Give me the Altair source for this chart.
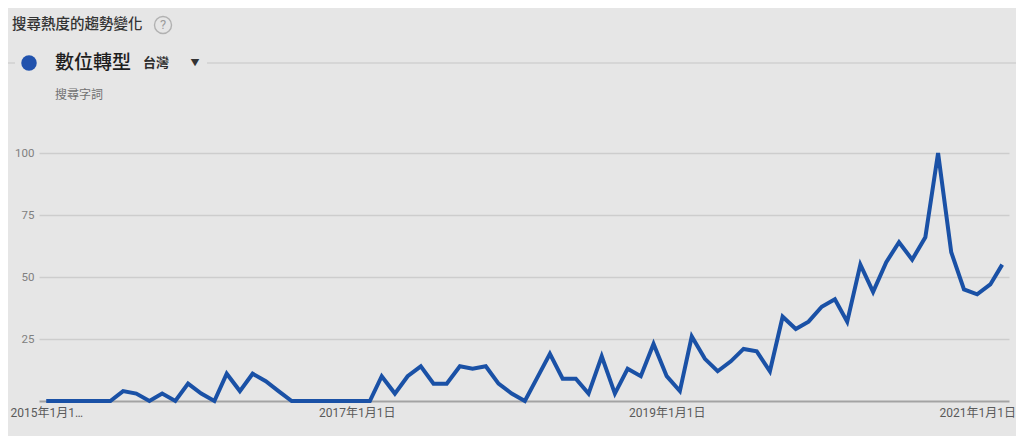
import altair as alt
import pandas as pd

# ---- data (monthly, 2015-01 .. 2021-03) ----
start_month = "2015-01"
n_months = 75
values = [
    0, 0, 0, 0, 0, 0, 4, 3, 0, 3, 0, 7,
    3, 0, 11, 4, 11, 8, 4, 0, 0, 0, 0, 0,
    0, 0, 10, 3, 10, 14, 7, 7, 14, 13, 14, 7,
    3, 0, 9, 19, 9, 9, 3, 18, 3, 13, 10, 23,
    10, 4, 26, 17, 12, 16, 21, 20, 12, 34, 29, 32,
    38, 41, 32, 55, 44, 56, 64, 57, 66, 100, 60, 45,
    43, 47, 55,
]
months = [d.strftime("%Y-%m-%dT00:00:00") for d in pd.date_range(start_month, periods=n_months, freq="MS")]

y_ticks = [25, 50, 75, 100]
x_tick_years = [2015, 2017, 2019, 2021]

title_text = "搜尋熱度的趨勢變化"
term_text = "數位轉型"
region_text = "台灣"
term_type_text = "搜尋字詞"

df = pd.DataFrame({"date": months, "value": values})

CJK = "Roboto, 'Noto Sans CJK TC', sans-serif"

line = alt.Chart(df).mark_line(color="#1a51a6", strokeWidth=4, strokeJoin="miter").encode(
    x=alt.X(
        "date:T",
        scale=alt.Scale(
            domain=[alt.DateTime(year=2014, month=12, date=15), alt.DateTime(year=2021, month=3, date=17)],
            nice=False,
        ),
        axis=alt.Axis(
            title=None,
            values=[alt.DateTime(year=y, month=1, date=1) for y in x_tick_years],
            labelExpr="year(datum.value) == 2015 ? '2015年1月1…' : year(datum.value) + '年1月1日'",
            ticks=False,
            grid=False,
            domain=True,
            domainColor="#a3a3a3",
            domainWidth=2,
            labelColor="#5a5a5a",
            labelFont=CJK,
            labelFontSize=12,
            labelPadding=6,
            labelFlush=False,
            labelOverlap=False,
            labelBound=False,
        ),
    ),
    y=alt.Y(
        "value:Q",
        scale=alt.Scale(domain=[0, 100], nice=False),
        axis=alt.Axis(
            title=None,
            values=y_ticks,
            ticks=False,
            domain=False,
            grid=True,
            gridColor="#cdcdcd",
            gridWidth=1.5,
            labelColor="#808080",
            labelFont=CJK,
            labelFontSize=11.5,
            labelPadding=5,
        ),
    ),
)

one = alt.Data(values=[{"a": 1}])

def txt(text, x, y, size, color, weight="normal", align="left"):
    return alt.Chart(one).mark_text(
        text=text, align=align, baseline="middle", fontSize=size, color=color,
        font=CJK, fontWeight=weight,
    ).encode(x=alt.value(x), y=alt.value(y))

# header elements (plot origin at page x=39, y=153)
title = txt(title_text, -27, -128, 14.5, "#333333", weight=500)
help_circle = alt.Chart(one).mark_point(shape="circle", filled=False, size=290, color="#9c9c9c", strokeWidth=1.4).encode(
    x=alt.value(124), y=alt.value(-128))
help_q = txt("?", 124, -128, 13, "#9c9c9c", align="center")
rule_left = alt.Chart(one).mark_rule(color="#c6c6c6", strokeWidth=1).encode(
    x=alt.value(-31), x2=alt.value(-24), y=alt.value(-90))
rule_right = alt.Chart(one).mark_rule(color="#c6c6c6", strokeWidth=1).encode(
    x=alt.value(168), x2=alt.value(980), y=alt.value(-90))
dot = alt.Chart(one).mark_point(shape="circle", filled=True, size=240, color="#2152ad", opacity=1).encode(
    x=alt.value(-10), y=alt.value(-90))
term = txt(term_text, 16, -90, 19, "#1e1e1e", weight=500)
region = txt(region_text, 104, -90, 13, "#2e2e2e", weight="bold")
arrow = txt("▼", 156, -90, 9, "#333333", align="center")
term_type = txt(term_type_text, 16, -58, 12, "#727272")

chart = alt.layer(
    line, title, help_circle, help_q, rule_left, rule_right, dot, term, region, arrow, term_type
).properties(
    width=970,
    height=248,
    autosize=alt.AutoSizeParams(type="none"),
    padding={"left": 31, "top": 145, "right": 7, "bottom": 35},
    background="#e6e6e6",
).configure_view(stroke=None)

chart.save("out.html", embed_options={"renderer": "svg", "actions": False})
